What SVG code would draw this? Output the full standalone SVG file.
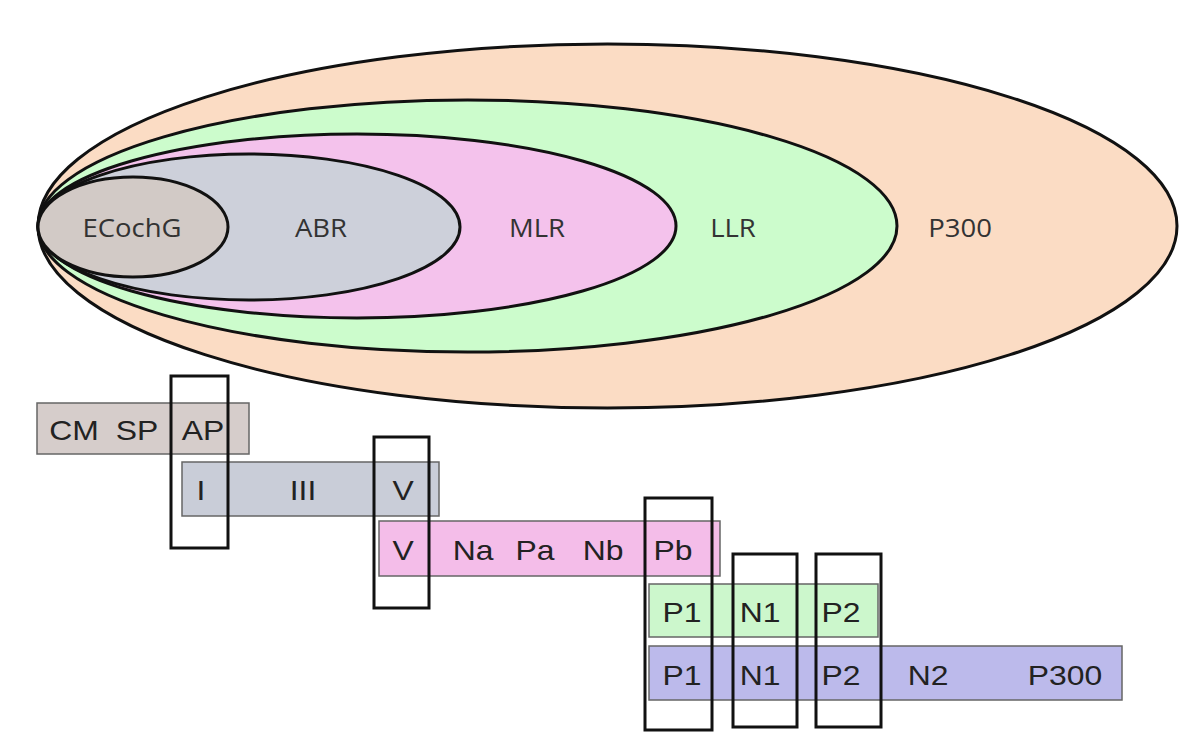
<svg xmlns="http://www.w3.org/2000/svg" width="1200" height="754" viewBox="0 0 1200 754">
<style>
.ell{stroke:#111;stroke-width:3}
.et{font-family:"Open Sans","Liberation Sans",sans-serif;font-size:25px;fill:#333;text-anchor:middle}
.bar{stroke:#666;stroke-width:1.5}
.bt{font-family:"Liberation Sans",Arial,sans-serif;font-size:27px;fill:#222;text-anchor:middle}
.win{fill:none;stroke:#111;stroke-width:3}
</style>
<rect width="1200" height="754" fill="#fff"/>
<g id="ellipses">
<g id="p300"><ellipse class="ell" cx="607.5" cy="226" rx="569.5" ry="182" fill="#fbdcc4"/><text class="et" transform="translate(960,237) scale(1.1,1)">P300</text></g>
<g id="llr"><ellipse class="ell" cx="467.5" cy="226" rx="429.5" ry="126" fill="#ccfccc"/><text class="et" transform="translate(733,237) scale(1.1,1)">LLR</text></g>
<g id="mlr"><ellipse class="ell" cx="357" cy="226" rx="319" ry="92" fill="#f4c2ec"/><text class="et" transform="translate(537,237) scale(1.1,1)">MLR</text></g>
<g id="abr"><ellipse class="ell" cx="249" cy="227" rx="211" ry="73" fill="#cdd0da"/><text class="et" transform="translate(321,237) scale(1.1,1)">ABR</text></g>
<g id="ecochg"><ellipse class="ell" cx="133" cy="227" rx="95" ry="50" fill="#d2cac6"/><text class="et" transform="translate(132,237) scale(1.1,1)">ECochG</text></g>
</g>
<g id="bars">
<g id="bar-ecochg"><rect class="bar" x="37" y="403" width="212" height="51" fill="#d6cdcb"/>
<text class="bt" transform="translate(74,440) scale(1.18,1)">CM</text><text class="bt" transform="translate(137,440) scale(1.18,1)">SP</text><text class="bt" transform="translate(203,440) scale(1.18,1)">AP</text></g>
<g id="bar-abr"><rect class="bar" x="182" y="462" width="257" height="54" fill="#c9cdd8"/>
<text class="bt" transform="translate(201,500) scale(1.18,1)">I</text><text class="bt" transform="translate(303,500) scale(1.18,1)">III</text><text class="bt" transform="translate(403,500) scale(1.18,1)">V</text></g>
<g id="bar-mlr"><rect class="bar" x="379" y="521" width="341" height="55" fill="#f4bde9"/>
<text class="bt" transform="translate(403,560) scale(1.18,1)">V</text><text class="bt" transform="translate(473,560) scale(1.18,1)">Na</text><text class="bt" transform="translate(535,560) scale(1.18,1)">Pa</text><text class="bt" transform="translate(603,560) scale(1.18,1)">Nb</text><text class="bt" transform="translate(673,560) scale(1.18,1)">Pb</text></g>
<g id="bar-llr"><rect class="bar" x="649" y="584" width="229" height="53" fill="#ccf7cc"/>
<text class="bt" transform="translate(682,622) scale(1.18,1)">P1</text><text class="bt" transform="translate(760,622) scale(1.18,1)">N1</text><text class="bt" transform="translate(841,622) scale(1.18,1)">P2</text></g>
<g id="bar-p300"><rect class="bar" x="649" y="646" width="473" height="54" fill="#bcbaeb"/>
<text class="bt" transform="translate(682,685) scale(1.18,1)">P1</text><text class="bt" transform="translate(760,685) scale(1.18,1)">N1</text><text class="bt" transform="translate(841,685) scale(1.18,1)">P2</text><text class="bt" transform="translate(928,685) scale(1.18,1)">N2</text><text class="bt" transform="translate(1065,685) scale(1.18,1)">P300</text></g>
</g>
<g id="connectors">
<rect class="win" x="171" y="376" width="57" height="172"/>
<rect class="win" x="374" y="437" width="55" height="171"/>
<rect class="win" x="645" y="498" width="67" height="232"/>
<rect class="win" x="733" y="554" width="64" height="173"/>
<rect class="win" x="816" y="554" width="65" height="173"/>
</g>
</svg>
